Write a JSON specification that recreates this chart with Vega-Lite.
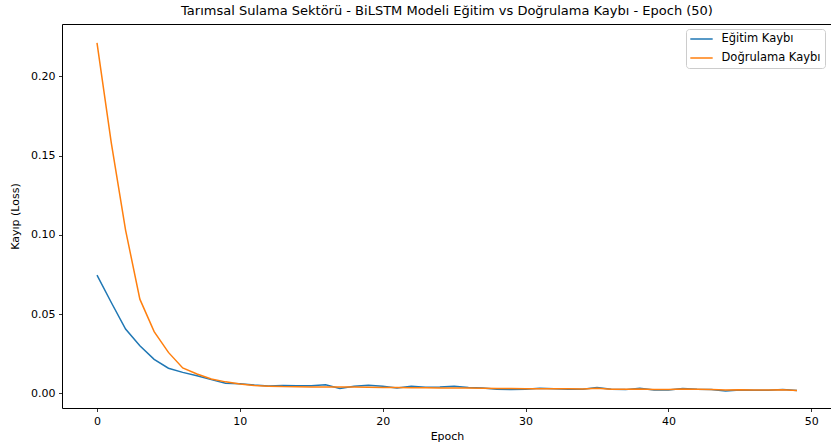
{
  "$schema": "https://vega.github.io/schema/vega-lite/v6.json",
  "autosize": "none",
  "padding": {"left": 62, "top": 24, "right": 0, "bottom": 38},
  "width": 770,
  "height": 384,
  "title": {"text": "Tarımsal Sulama Sektörü - BiLSTM Modeli Eğitim vs Doğrulama Kaybı - Epoch (50)", "font": "DejaVu Sans", "fontSize": 13, "fontWeight": "normal", "color": "#000000", "offset": 6, "anchor": "middle"},
  "data": {"values": [
    {"epoch": 0, "loss": 0.0746, "series": "Eğitim Kaybı"},
    {"epoch": 1, "loss": 0.0573, "series": "Eğitim Kaybı"},
    {"epoch": 2, "loss": 0.0405, "series": "Eğitim Kaybı"},
    {"epoch": 3, "loss": 0.0300, "series": "Eğitim Kaybı"},
    {"epoch": 4, "loss": 0.0214, "series": "Eğitim Kaybı"},
    {"epoch": 5, "loss": 0.0158, "series": "Eğitim Kaybı"},
    {"epoch": 6, "loss": 0.0132, "series": "Eğitim Kaybı"},
    {"epoch": 7, "loss": 0.0110, "series": "Eğitim Kaybı"},
    {"epoch": 8, "loss": 0.0086, "series": "Eğitim Kaybı"},
    {"epoch": 9, "loss": 0.0063, "series": "Eğitim Kaybı"},
    {"epoch": 10, "loss": 0.0060, "series": "Eğitim Kaybı"},
    {"epoch": 11, "loss": 0.0052, "series": "Eğitim Kaybı"},
    {"epoch": 12, "loss": 0.0046, "series": "Eğitim Kaybı"},
    {"epoch": 13, "loss": 0.0049, "series": "Eğitim Kaybı"},
    {"epoch": 14, "loss": 0.0048, "series": "Eğitim Kaybı"},
    {"epoch": 15, "loss": 0.0048, "series": "Eğitim Kaybı"},
    {"epoch": 16, "loss": 0.0053, "series": "Eğitim Kaybı"},
    {"epoch": 17, "loss": 0.0030, "series": "Eğitim Kaybı"},
    {"epoch": 18, "loss": 0.0044, "series": "Eğitim Kaybı"},
    {"epoch": 19, "loss": 0.0050, "series": "Eğitim Kaybı"},
    {"epoch": 20, "loss": 0.0045, "series": "Eğitim Kaybı"},
    {"epoch": 21, "loss": 0.0034, "series": "Eğitim Kaybı"},
    {"epoch": 22, "loss": 0.0045, "series": "Eğitim Kaybı"},
    {"epoch": 23, "loss": 0.0038, "series": "Eğitim Kaybı"},
    {"epoch": 24, "loss": 0.0040, "series": "Eğitim Kaybı"},
    {"epoch": 25, "loss": 0.0045, "series": "Eğitim Kaybı"},
    {"epoch": 26, "loss": 0.0036, "series": "Eğitim Kaybı"},
    {"epoch": 27, "loss": 0.0034, "series": "Eğitim Kaybı"},
    {"epoch": 28, "loss": 0.0026, "series": "Eğitim Kaybı"},
    {"epoch": 29, "loss": 0.0024, "series": "Eğitim Kaybı"},
    {"epoch": 30, "loss": 0.0026, "series": "Eğitim Kaybı"},
    {"epoch": 31, "loss": 0.0032, "series": "Eğitim Kaybı"},
    {"epoch": 32, "loss": 0.0028, "series": "Eğitim Kaybı"},
    {"epoch": 33, "loss": 0.0026, "series": "Eğitim Kaybı"},
    {"epoch": 34, "loss": 0.0026, "series": "Eğitim Kaybı"},
    {"epoch": 35, "loss": 0.0036, "series": "Eğitim Kaybı"},
    {"epoch": 36, "loss": 0.0025, "series": "Eğitim Kaybı"},
    {"epoch": 37, "loss": 0.0023, "series": "Eğitim Kaybı"},
    {"epoch": 38, "loss": 0.0032, "series": "Eğitim Kaybı"},
    {"epoch": 39, "loss": 0.0021, "series": "Eğitim Kaybı"},
    {"epoch": 40, "loss": 0.0021, "series": "Eğitim Kaybı"},
    {"epoch": 41, "loss": 0.0030, "series": "Eğitim Kaybı"},
    {"epoch": 42, "loss": 0.0025, "series": "Eğitim Kaybı"},
    {"epoch": 43, "loss": 0.0024, "series": "Eğitim Kaybı"},
    {"epoch": 44, "loss": 0.0015, "series": "Eğitim Kaybı"},
    {"epoch": 45, "loss": 0.0021, "series": "Eğitim Kaybı"},
    {"epoch": 46, "loss": 0.0019, "series": "Eğitim Kaybı"},
    {"epoch": 47, "loss": 0.0019, "series": "Eğitim Kaybı"},
    {"epoch": 48, "loss": 0.0023, "series": "Eğitim Kaybı"},
    {"epoch": 49, "loss": 0.0018, "series": "Eğitim Kaybı"},
    {"epoch": 0, "loss": 0.2212, "series": "Doğrulama Kaybı"},
    {"epoch": 1, "loss": 0.158, "series": "Doğrulama Kaybı"},
    {"epoch": 2, "loss": 0.103, "series": "Doğrulama Kaybı"},
    {"epoch": 3, "loss": 0.0594, "series": "Doğrulama Kaybı"},
    {"epoch": 4, "loss": 0.0389, "series": "Doğrulama Kaybı"},
    {"epoch": 5, "loss": 0.0258, "series": "Doğrulama Kaybı"},
    {"epoch": 6, "loss": 0.0160, "series": "Doğrulama Kaybı"},
    {"epoch": 7, "loss": 0.0122, "series": "Doğrulama Kaybı"},
    {"epoch": 8, "loss": 0.0090, "series": "Doğrulama Kaybı"},
    {"epoch": 9, "loss": 0.0072, "series": "Doğrulama Kaybı"},
    {"epoch": 10, "loss": 0.0058, "series": "Doğrulama Kaybı"},
    {"epoch": 11, "loss": 0.0049, "series": "Doğrulama Kaybı"},
    {"epoch": 12, "loss": 0.0045, "series": "Doğrulama Kaybı"},
    {"epoch": 13, "loss": 0.0042, "series": "Doğrulama Kaybı"},
    {"epoch": 14, "loss": 0.0041, "series": "Doğrulama Kaybı"},
    {"epoch": 15, "loss": 0.0040, "series": "Doğrulama Kaybı"},
    {"epoch": 16, "loss": 0.0039, "series": "Doğrulama Kaybı"},
    {"epoch": 17, "loss": 0.0040, "series": "Doğrulama Kaybı"},
    {"epoch": 18, "loss": 0.0039, "series": "Doğrulama Kaybı"},
    {"epoch": 19, "loss": 0.0038, "series": "Doğrulama Kaybı"},
    {"epoch": 20, "loss": 0.0037, "series": "Doğrulama Kaybı"},
    {"epoch": 21, "loss": 0.0036, "series": "Doğrulama Kaybı"},
    {"epoch": 22, "loss": 0.0035, "series": "Doğrulama Kaybı"},
    {"epoch": 23, "loss": 0.0035, "series": "Doğrulama Kaybı"},
    {"epoch": 24, "loss": 0.0034, "series": "Doğrulama Kaybı"},
    {"epoch": 25, "loss": 0.0033, "series": "Doğrulama Kaybı"},
    {"epoch": 26, "loss": 0.0033, "series": "Doğrulama Kaybı"},
    {"epoch": 27, "loss": 0.0032, "series": "Doğrulama Kaybı"},
    {"epoch": 28, "loss": 0.0030, "series": "Doğrulama Kaybı"},
    {"epoch": 29, "loss": 0.0030, "series": "Doğrulama Kaybı"},
    {"epoch": 30, "loss": 0.0029, "series": "Doğrulama Kaybı"},
    {"epoch": 31, "loss": 0.0029, "series": "Doğrulama Kaybı"},
    {"epoch": 32, "loss": 0.0028, "series": "Doğrulama Kaybı"},
    {"epoch": 33, "loss": 0.0028, "series": "Doğrulama Kaybı"},
    {"epoch": 34, "loss": 0.0027, "series": "Doğrulama Kaybı"},
    {"epoch": 35, "loss": 0.0031, "series": "Doğrulama Kaybı"},
    {"epoch": 36, "loss": 0.0026, "series": "Doğrulama Kaybı"},
    {"epoch": 37, "loss": 0.0026, "series": "Doğrulama Kaybı"},
    {"epoch": 38, "loss": 0.0027, "series": "Doğrulama Kaybı"},
    {"epoch": 39, "loss": 0.0024, "series": "Doğrulama Kaybı"},
    {"epoch": 40, "loss": 0.0024, "series": "Doğrulama Kaybı"},
    {"epoch": 41, "loss": 0.0027, "series": "Doğrulama Kaybı"},
    {"epoch": 42, "loss": 0.0025, "series": "Doğrulama Kaybı"},
    {"epoch": 43, "loss": 0.0023, "series": "Doğrulama Kaybı"},
    {"epoch": 44, "loss": 0.0021, "series": "Doğrulama Kaybı"},
    {"epoch": 45, "loss": 0.0022, "series": "Doğrulama Kaybı"},
    {"epoch": 46, "loss": 0.0021, "series": "Doğrulama Kaybı"},
    {"epoch": 47, "loss": 0.0021, "series": "Doğrulama Kaybı"},
    {"epoch": 48, "loss": 0.0022, "series": "Doğrulama Kaybı"},
    {"epoch": 49, "loss": 0.0018, "series": "Doğrulama Kaybı"}
  ]},
  "mark": {"type": "line", "strokeWidth": 1.5, "clip": true},
  "encoding": {
    "x": {"field": "epoch", "type": "quantitative", "title": "Epoch",
      "scale": {"domain": [-2.45, 51.45], "nice": false, "zero": false},
      "axis": {"values": [0, 10, 20, 30, 40, 50], "format": "d", "titlePadding": 4}},
    "y": {"field": "loss", "type": "quantitative", "title": "Kayıp (Loss)",
      "scale": {"domain": [-0.0093, 0.2331], "nice": false, "zero": false},
      "axis": {"values": [0, 0.05, 0.1, 0.15, 0.2], "format": ".2f", "titlePadding": 10}},
    "color": {"field": "series", "type": "nominal", "title": null,
      "scale": {"domain": ["Eğitim Kaybı", "Doğrulama Kaybı"], "range": ["#1f77b4", "#ff7f0e"]},
      "legend": {"orient": "none", "legendX": 624, "legendY": 5, "symbolType": "stroke", "symbolSize": 500, "symbolStrokeWidth": 1.5,
        "clipHeight": 13, "labelFont": "DejaVu Sans", "labelFontSize": 11.5, "labelColor": "#000000", "rowPadding": 6, "padding": 3.5,
        "strokeColor": "#cccccc", "fillColor": "#ffffff", "cornerRadius": 3, "labelOffset": 8}}
  },
  "config": {
    "font": "DejaVu Sans",
    "background": "#ffffff",
    "view": {"stroke": "#000000", "strokeWidth": 1},
    "axis": {"domain": false, "grid": false, "tickColor": "#000000", "tickSize": 3.5, "tickWidth": 0.8,
      "labelFont": "DejaVu Sans", "labelFontSize": 11, "labelColor": "#000000", "labelPadding": 3.5,
      "titleFont": "DejaVu Sans", "titleFontSize": 11, "titleFontWeight": "normal", "titleColor": "#000000"}
  }
}
